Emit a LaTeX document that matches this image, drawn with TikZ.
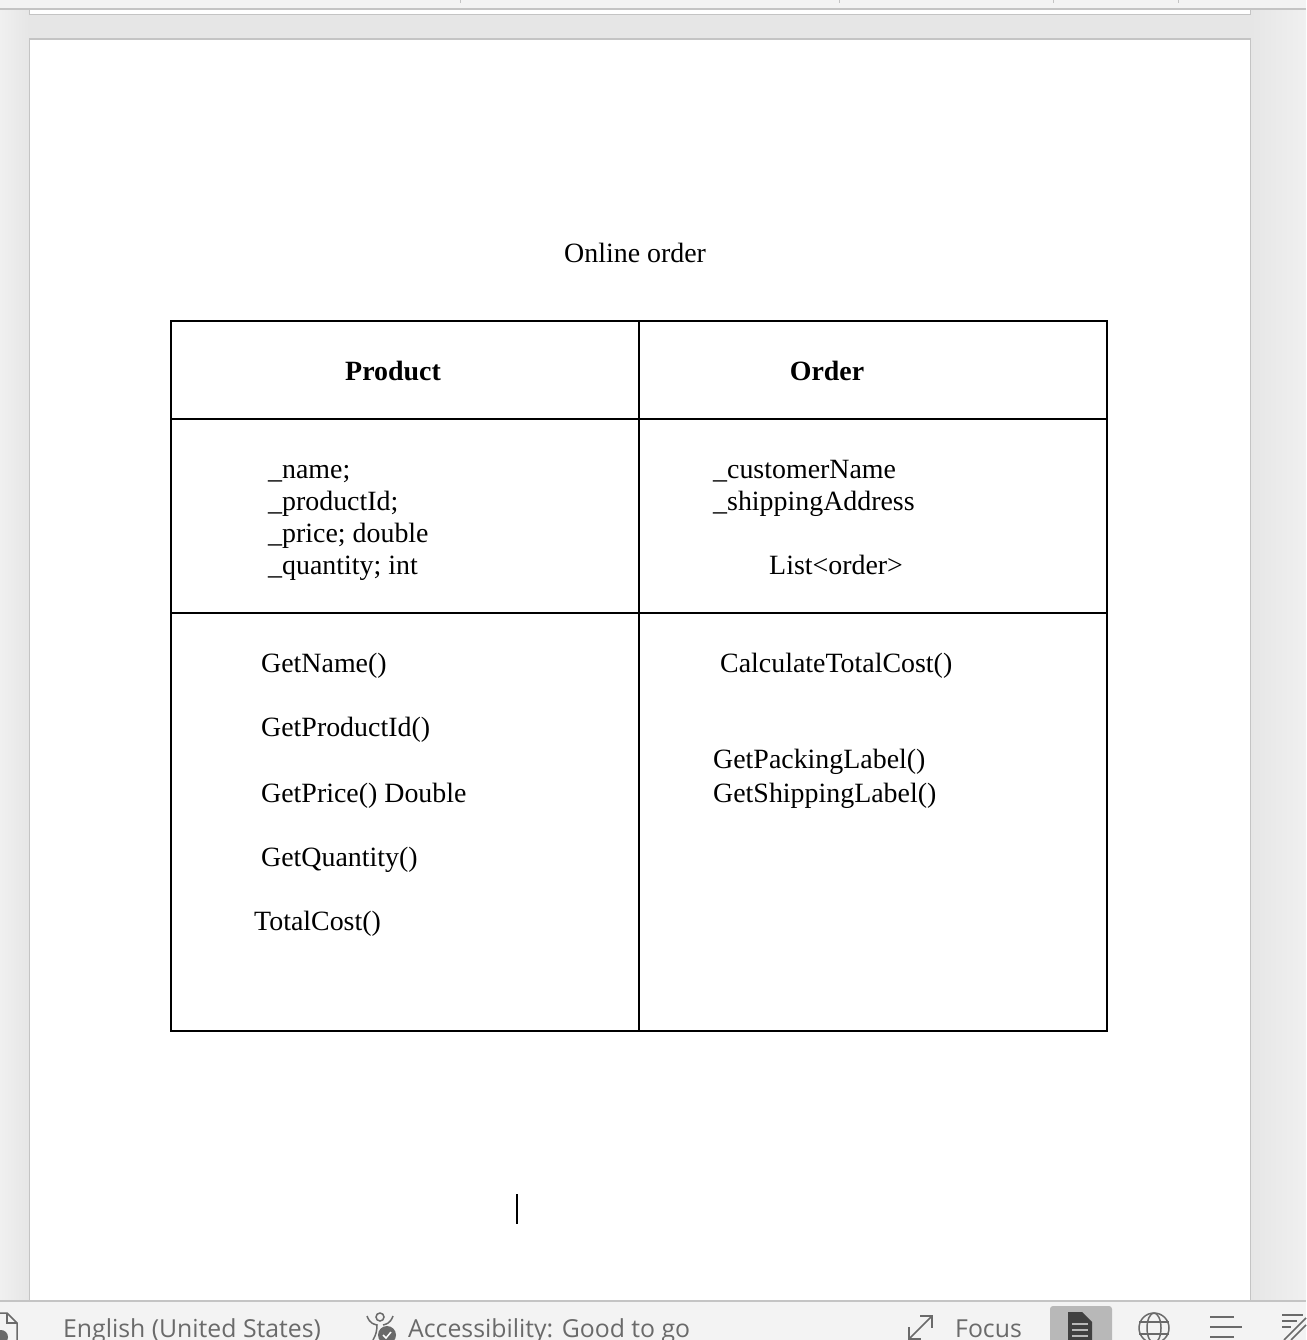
\documentclass[tikz,border=0pt]{standalone}
\usepackage{fontspec}
\setmainfont{Liberation Serif}
\newfontfamily\uifont{Open Sans}
\usetikzlibrary{calc}
\definecolor{pagegrey}{HTML}{E6E6E6}
\definecolor{sidegrey}{HTML}{F0F0F0}
\definecolor{edgegrey}{HTML}{C4C4C4}
\definecolor{bargrey}{HTML}{F3F3F3}
\definecolor{uitext}{HTML}{6A6A6A}
\tikzset{
	x=1pt, y=-1pt,
	doctext/.style={anchor=base west, inner sep=0pt, font=\fontsize{27.9}{32}\selectfont},
	headtext/.style={anchor=base, inner sep=0pt, font=\fontsize{27.9}{32}\selectfont\bfseries},
	uilabel/.style={anchor=base west, inner sep=0pt, text=uitext, font=\uifont\fontsize{24.8}{30}\selectfont},
	uiicon/.style={draw=uitext, line width=1.5pt},
	cellline/.style={line width=2pt, line cap=rect}
}
\begin{document}
\begin{tikzpicture}
	\useasboundingbox (0, 0) rectangle (1306, 1340);
	%%%%% WINDOW %%%%%
	\fill[pagegrey] (0, 0) rectangle (1306, 1340);
	\shade[left color=sidegrey, right color=pagegrey] (0, 10) rectangle (29, 1300);
	\shade[left color=pagegrey, right color=sidegrey] (1251, 10) rectangle (1306, 1300);
	\fill[bargrey] (0, 0) rectangle (1306, 8);
	\fill[edgegrey] (0, 8) rectangle (1306, 10);
	\foreach \tick in {460, 839, 1053, 1178} {
		\draw[edgegrey, line width=0.8pt] (\tick, 0) -- (\tick, 3);
	}
	\draw[edgegrey, line width=1pt, fill=white] (29.5, 10) rectangle (1250.5, 15);
	\draw[edgegrey, line width=1pt, fill=white] (29.5, 40) rectangle (1250.5, 1310);
	\fill[edgegrey] (29, 38.5) rectangle (1251, 40.5);
	%%%%% STATUS BAR %%%%%
	\fill[bargrey] (0, 1301) rectangle (1306, 1340);
	\fill[edgegrey] (0, 1300) rectangle (1306, 1302);
	\node[uilabel] (language) at (63, 1337) {English (United States)};
	\node[uilabel] (access) at (408, 1337) {Accessibility: Good to go};
	\node[uilabel] (focus) at (955, 1337) {Focus};
	\draw[uiicon] (0, 1313) -- (7, 1313) -- (17, 1323) -- (17, 1340);
	\draw[uiicon] (7, 1313) -- (7, 1323) -- (17, 1323);
	\fill[uitext] (1, 1337) circle (7);
	\draw[uiicon] (380, 1317) circle (4);
	\draw[uiicon] (367, 1316) .. controls (370, 1324) and (374, 1324) .. (377, 1325) .. controls (377, 1330) and (376, 1335) .. (373, 1340);
	\draw[uiicon] (393, 1316) .. controls (390, 1324) and (386, 1324) .. (383, 1325);
	\fill[uitext] (387, 1335) circle (9);
	\draw[white, line width=1.5pt] (383, 1335) -- (386, 1338) -- (391, 1332);
	\draw[uiicon] (909, 1339) -- (932, 1316);
	\draw[uiicon] (920, 1316) -- (932, 1316) -- (932, 1328);
	\draw[uiicon] (909, 1327) -- (909, 1339) -- (921, 1339);
	\fill[rounded corners=3pt, fill=black!28] (1050, 1306) rectangle (1112, 1345);
	\fill[black!75] (1068, 1312) -- (1082, 1312) -- (1092, 1322) -- (1092, 1340) -- (1068, 1340) -- cycle;
	\foreach \bary in {1324, 1330, 1336} {
		\draw[black!28, line width=1.3pt] (1072, \bary) -- (1088, \bary);
	}
	\draw[uiicon] (1154, 1328) circle (15);
	\draw[uiicon] (1154, 1328) ellipse (7 and 15);
	\draw[uiicon] (1139, 1322) -- (1169, 1322);
	\draw[uiicon] (1139, 1334) -- (1169, 1334);
	\draw[uiicon] (1210, 1317) -- (1234, 1317);
	\draw[uiicon] (1210, 1327) -- (1242, 1327);
	\draw[uiicon] (1210, 1337) -- (1234, 1337);
	\draw[uiicon] (1282, 1315) -- (1303, 1315);
	\draw[uiicon] (1282, 1321) -- (1297, 1321);
	\draw[uiicon] (1282, 1327) -- (1291, 1327);
	\draw[uiicon] (1284, 1340) -- (1306, 1318);
	\draw[uiicon] (1291, 1340) -- (1306, 1325);
	%%%%% TABLE %%%%%
	\draw[cellline] (171, 321) rectangle (1107, 1031);
	\draw[cellline] (639, 321) -- (639, 1031);
	\draw[cellline] (171, 419) -- (1107, 419);
	\draw[cellline] (171, 613) -- (1107, 613);
	%%%%% TEXT %%%%%
	\node[doctext] (title) at (564, 262) {Online order};
	\node[headtext] (product) at (393, 380) {Product};
	\node[headtext] (order) at (827, 380) {Order};
	\node[doctext] (fname) at (268, 478) {\_name;};
	\node[doctext] (fproductid) at (268, 510) {\_productId;};
	\node[doctext] (fprice) at (268, 542) {\_price; double};
	\node[doctext] (fquantity) at (268, 574) {\_quantity; int};
	\node[doctext] (fcustomer) at (713, 478) {\_customerName};
	\node[doctext] (faddress) at (713, 510) {\_shippingAddress};
	\node[doctext] (flist) at (769, 574) {List<order>};
	\node[doctext] (mname) at (261, 672) {GetName()};
	\node[doctext] (mproductid) at (261, 736) {GetProductId()};
	\node[doctext] (mprice) at (261, 802) {GetPrice() Double};
	\node[doctext] (mquantity) at (261, 866) {GetQuantity()};
	\node[doctext] (mtotal) at (254, 930) {TotalCost()};
	\node[doctext] (mcalc) at (720, 672) {CalculateTotalCost()};
	\node[doctext] (mpacking) at (713, 768) {GetPackingLabel()};
	\node[doctext] (mshipping) at (713, 802) {GetShippingLabel()};
	\draw[line width=1.5pt] (517, 1194) -- (517, 1224);
\end{tikzpicture}
\end{document}
